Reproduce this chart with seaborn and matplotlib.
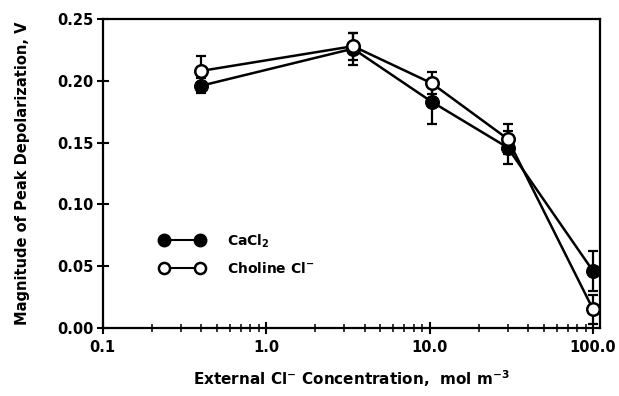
import numpy as np
import pandas as pd
import seaborn as sns
import matplotlib
matplotlib.use("Agg")
import matplotlib.pyplot as plt
from matplotlib.ticker import FixedLocator, FixedFormatter, LogLocator, NullFormatter
from matplotlib.lines import Line2D
from matplotlib.legend_handler import HandlerLine2D

conc = [0.4, 3.4, 10.3, 30.0, 100.0]
cacl2 = [0.196, 0.226, 0.183, 0.146, 0.046]
cacl2_err = [0.006, 0.013, 0.018, 0.013, 0.016]
choline = [0.208, 0.228, 0.198, 0.153, 0.015]
choline_err = [0.012, 0.011, 0.009, 0.012, 0.012]
series_names = ["CaCl$_2$", "Choline Cl$^{-}$"]
xticks = [0.1, 1.0, 10.0, 100.0]
xticklabels = ["0.1", "1.0", "10.0", "100.0"]
yticks = [0.00, 0.05, 0.10, 0.15, 0.20, 0.25]

sns.set_theme(style="white")
plt.rcParams['font.family'] = ['DejaVu Sans']
plt.rcParams['font.weight'] = 'bold'
plt.rcParams['text.color'] = 'black'
plt.rcParams['axes.labelcolor'] = 'black'

df_ca = pd.DataFrame({"conc": conc, "val": cacl2})
df_ch = pd.DataFrame({"conc": conc, "val": choline})

fig = plt.figure(figsize=(6.19, 3.96), dpi=100)
ax = fig.add_axes([0.166, 0.172, 0.803, 0.780])

ax.errorbar(conc, cacl2, yerr=cacl2_err, fmt='none', ecolor='black', elinewidth=1.6, capsize=3.5, capthick=1.6, zorder=2)
ax.errorbar(conc, choline, yerr=choline_err, fmt='none', ecolor='black', elinewidth=1.6, capsize=3.5, capthick=1.6, zorder=2)

sns.lineplot(data=df_ca, x="conc", y="val", color='black', marker='o', markersize=10,
             markerfacecolor='black', markeredgecolor='black', linewidth=1.8, ax=ax, zorder=3)
sns.lineplot(data=df_ch, x="conc", y="val", color='black', marker='o', markersize=9,
             markerfacecolor='white', markeredgecolor='black', markeredgewidth=1.8, linewidth=1.8, ax=ax, zorder=4)

ax.set_xscale('log')
ax.set_xlim(0.1, 110)
ax.set_ylim(0.0, 0.25)
ax.xaxis.set_major_locator(FixedLocator(xticks))
ax.xaxis.set_major_formatter(FixedFormatter(xticklabels))
ax.xaxis.set_minor_locator(LogLocator(base=10, subs=np.arange(2, 10)))
ax.xaxis.set_minor_formatter(NullFormatter())
ax.set_yticks(yticks)
ax.set_yticklabels([f"{v:.2f}" for v in yticks])

for s in ax.spines.values():
    s.set_color('black'); s.set_linewidth(1.6); s.set_visible(True)

ax.tick_params(axis='both', which='major', direction='inout', length=9, width=1.5, labelsize=10.5, colors='black', pad=2)
ax.tick_params(axis='x', which='minor', direction='inout', length=6, width=1.3, bottom=True)
ax.tick_params(axis='x', which='major', pad=4)
ax.tick_params(left=True, bottom=True, top=False, right=False)
for lab in ax.get_xticklabels() + ax.get_yticklabels():
    lab.set_fontweight('bold')

ax.set_xlabel("External Cl$^{-}$ Concentration,  mol m$^{-3}$", fontsize=11, fontweight='bold', labelpad=10, color='black')
ax.set_ylabel("Magnitude of Peak Depolarization, V", fontsize=10.5, fontweight='bold', labelpad=20, color='black')

handles = [
    Line2D([0], [0], color='black', lw=1.5, marker='o', markersize=9, markerfacecolor='black', markeredgecolor='black'),
    Line2D([0], [0], color='black', lw=1.5, marker='o', markersize=8, markerfacecolor='white', markeredgecolor='black', markeredgewidth=1.8),
]
leg = ax.legend(handles, series_names, loc='upper left', bbox_to_anchor=(0.09, 0.35), frameon=False,
                fontsize=10, handlelength=3.2, handletextpad=1.6, labelspacing=0.8,
                handler_map={Line2D: HandlerLine2D(numpoints=2)})
for t in leg.get_texts():
    t.set_fontweight('bold'); t.set_color('black')

fig.savefig("out.png", dpi=100)
